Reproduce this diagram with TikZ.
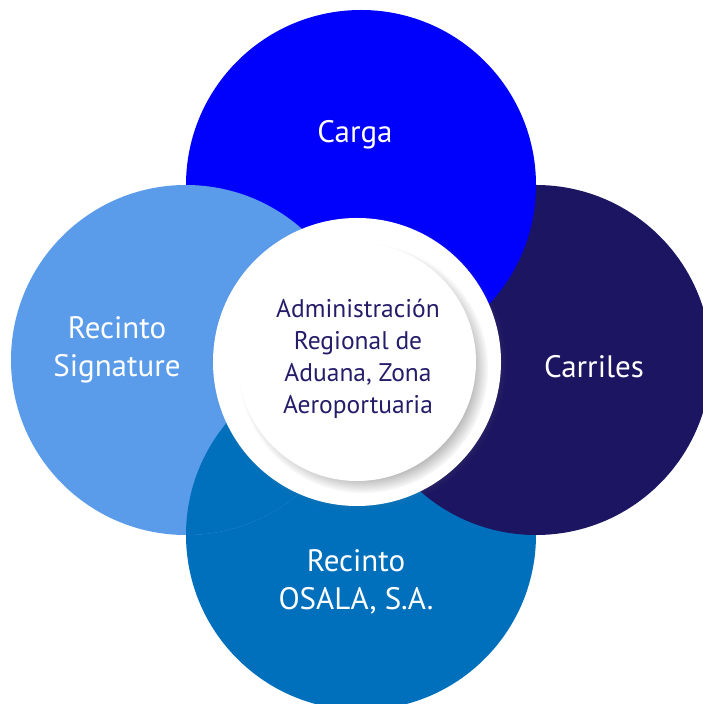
\documentclass[tikz,border=0pt]{standalone}
\usepackage{fontspec}
\setmainfont{PT Sans}
\usepackage{tikz}
\usetikzlibrary{shadows}
\definecolor{CargaBlue}{HTML}{0000FD}
\definecolor{CarrilesNavy}{HTML}{1C1561}
\definecolor{SignatureBlue}{HTML}{5A9BEA}
\definecolor{OsalaBlue}{HTML}{0070BC}
\definecolor{HubInk}{HTML}{251D6A}

\begin{document}
\begin{tikzpicture}[x=1pt,y=1pt,
  petal/.style={circle, minimum size=350pt, inner sep=0pt},
  tag/.style={white, align=center, font=\fontsize{31}{38}\selectfont}]
\useasboundingbox (0,0) rectangle (702,704);
\node[petal, fill=OsalaBlue] (osala) at (361,169) {};
\node[petal, fill=CarrilesNavy] (carriles) at (536,344) {};
\node[petal, fill=CargaBlue] (carga) at (361,519) {};
\node[petal, fill=SignatureBlue] (signature) at (186,344) {};
%
\begin{scope}
\clip (signature.center) circle (175pt);
\fill[OsalaBlue] (osala.center) circle (175pt);
\end{scope}
%
\node[tag] (cargatxt) at (355,569) {Carga};
\node[tag] (carrilestxt) at (594,337) {Carriles};
\node[tag] (signaturetxt) at (117,354) {Recinto\\Signature};
\node[tag] (osalatxt) at (356,122) {Recinto\\OSALA, S.A.};
%
\node[circle, fill=white, minimum size=288pt,
  circular drop shadow={shadow scale=1.03, opacity=.3}] (ring) at (357,342) {};
\node[circle, fill=white, minimum size=238pt,
  circular drop shadow={shadow scale=1.05, shadow xshift=6pt, shadow yshift=-6pt, opacity=.65}] (hub) at (357,342) {};
\node[HubInk, align=center, font=\fontsize{25.5}{32}\selectfont] (hubtxt) at (358,345)
  {Administración\\Regional de\\Aduana, Zona\\Aeroportuaria};
\end{tikzpicture}
\end{document}
